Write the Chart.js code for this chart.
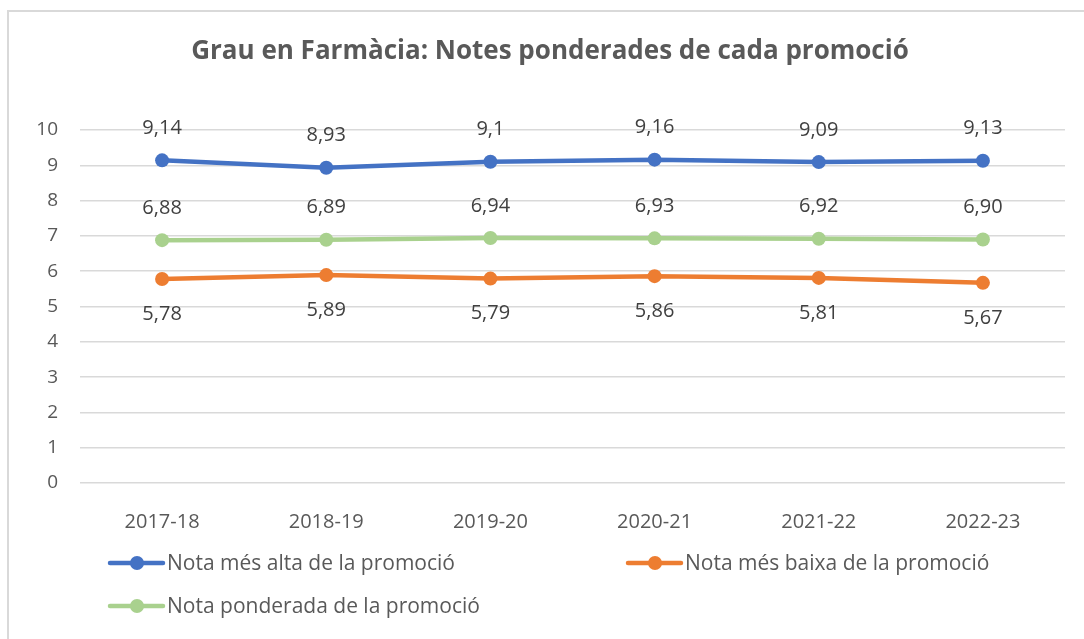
<!DOCTYPE html>
<html lang="ca">
<head>
<meta charset="UTF-8">
<title>Grau en Farmàcia: Notes ponderades de cada promoció</title>
<script src="https://cdn.jsdelivr.net/npm/chart.js@4.4.3/dist/chart.umd.min.js"></script>
<style>
  html, body { margin: 0; padding: 0; background: #fff; overflow: hidden; }
  #wrap { position: relative; width: 1084px; height: 639px; }
  #frame { position: absolute; left: 7px; top: 10px; width: 1100px; height: 700px;
           border: 2px solid #d9d9d9; box-sizing: border-box; }
  canvas { position: absolute; left: 0; top: 0; }
</style>
</head>
<body>
<div id="wrap">
  <div id="frame"></div>
  <canvas id="chart" width="1084" height="639"></canvas>
</div>
<script>
// data
const promocions = ['2017-18', '2018-19', '2019-20', '2020-21', '2021-22', '2022-23'];
const notaAlta = [9.14, 8.93, 9.10, 9.16, 9.09, 9.13];
const notaBaixa = [5.78, 5.89, 5.79, 5.86, 5.81, 5.67];
const notaPonderada = [6.88, 6.89, 6.94, 6.93, 6.92, 6.90];
const yTicks = [0, 1, 2, 3, 4, 5, 6, 7, 8, 9, 10];
const titol = 'Grau en Farmàcia: Notes ponderades de cada promoció';

const FONT = "'Open Sans', 'Liberation Sans', sans-serif";
const GREY = '#595959';

// formatters for the value labels
const general = v => String(v).replace('.', ',');
const fixed2 = v => v.toFixed(2).replace('.', ',');

// value labels above / below each point
const valueLabels = {
  id: 'valueLabels',
  afterDatasetsDraw(chart) {
    const ctx = chart.ctx;
    ctx.save();
    ctx.font = '20px ' + FONT;
    ctx.fillStyle = '#404040';
    ctx.textAlign = 'center';
    ctx.textBaseline = 'middle';
    chart.data.datasets.forEach((ds, i) => {
      const meta = chart.getDatasetMeta(i);
      meta.data.forEach((pt, j) => {
        ctx.fillText(ds.fmt(ds.data[j]), pt.x, pt.y + ds.labelOffset);
      });
    });
    ctx.restore();
  }
};

// title + excel style legend (grid of two columns)
const titleAndLegend = {
  id: 'titleAndLegend',
  afterDraw(chart) {
    const ctx = chart.ctx;
    ctx.save();
    ctx.font = 'bold 26px ' + FONT;
    ctx.fillStyle = GREY;
    ctx.textAlign = 'center';
    ctx.textBaseline = 'middle';
    ctx.fillText(titol, 550, 52);

    const slots = [[110, 563], [628, 563], [110, 606]];
    ctx.font = '21px ' + FONT;
    ctx.textAlign = 'left';
    chart.data.datasets.forEach((ds, i) => {
      const [x, y] = slots[i];
      ctx.strokeStyle = ds.borderColor;
      ctx.lineWidth = 4.5;
      ctx.lineCap = 'round';
      ctx.beginPath();
      ctx.moveTo(x, y);
      ctx.lineTo(x + 53, y);
      ctx.stroke();
      ctx.fillStyle = ds.borderColor;
      ctx.beginPath();
      ctx.arc(x + 27, y, 7, 0, Math.PI * 2);
      ctx.fill();
      ctx.fillStyle = GREY;
      ctx.fillText(ds.label, x + 57, y + 1);
    });
    ctx.restore();
  }
};

function serie(label, data, color, fmt, labelOffset) {
  return {
    label, data, fmt, labelOffset,
    borderColor: color,
    backgroundColor: color,
    borderWidth: 4.5,
    pointRadius: 7,
    pointHoverRadius: 7,
    pointBorderWidth: 0,
    tension: 0
  };
}

new Chart(document.getElementById('chart'), {
  type: 'line',
  data: {
    labels: promocions,
    datasets: [
      serie('Nota més alta de la promoció', notaAlta, '#4472C4', general, -32),
      serie('Nota més baixa de la promoció', notaBaixa, '#ED7D31', fixed2, 35),
      serie('Nota ponderada de la promoció', notaPonderada, '#A9D18E', fixed2, -32)
    ]
  },
  options: {
    responsive: false,
    animation: false,
    layout: { padding: { top: 130, left: 0, right: 19, bottom: 96 } },
    plugins: {
      legend: { display: false },
      title: { display: false },
      tooltip: { enabled: false }
    },
    scales: {
      x: {
        offset: true,
        grid: { display: false },
        border: { display: false },
        ticks: { color: GREY, font: { family: FONT, size: 20 }, padding: 19 },
        afterFit: s => { s.height = 60; }
      },
      y: {
        min: 0,
        max: 10,
        afterBuildTicks: s => { s.ticks = yTicks.map(v => ({ value: v })); },
        grid: { color: '#d9d9d9', lineWidth: 1.5, drawTicks: false },
        border: { display: false },
        ticks: { color: GREY, font: { family: FONT, size: 19 }, padding: 22 },
        afterFit: s => { s.width = 80; }
      }
    }
  },
  plugins: [valueLabels, titleAndLegend]
});
</script>
</body>
</html>
